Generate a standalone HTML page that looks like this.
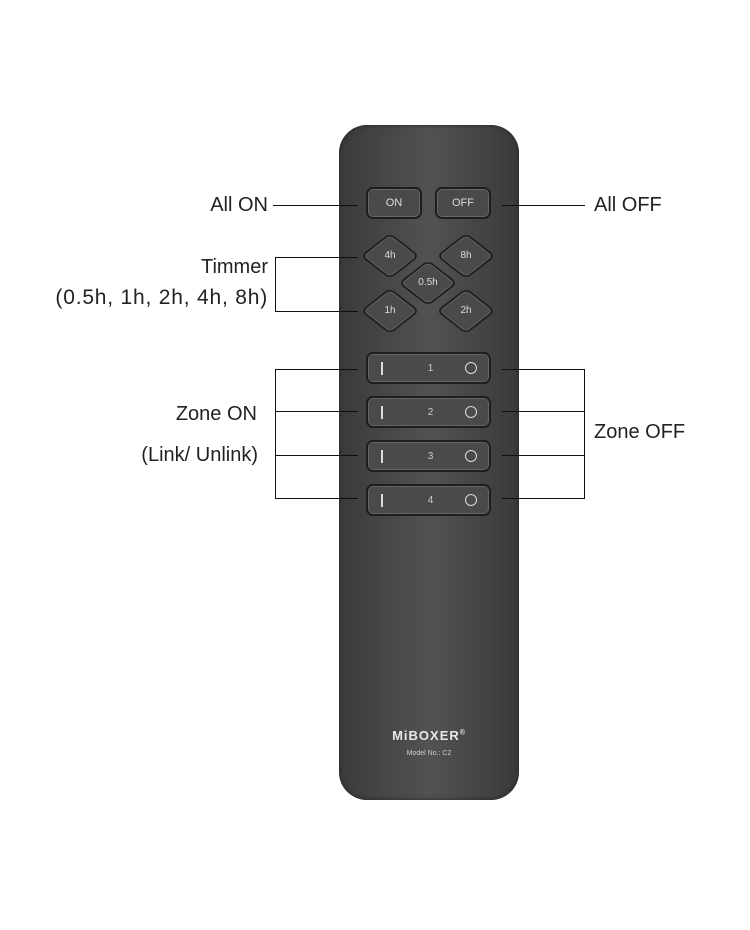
<!DOCTYPE html>
<html><head><style>
body{margin:0;background:#fff;width:750px;height:930px;position:relative;overflow:hidden;font-family:"Liberation Sans",sans-serif}
.t{position:absolute;font-size:20px;color:#222;white-space:nowrap;line-height:24px}
.l{position:absolute;background:#111}
.remote{position:absolute;left:339px;top:125px;width:180px;height:675px;border-radius:28px;background:linear-gradient(90deg,#3a3a3a 0%,#525252 50%,#3a3a3a 100%);box-shadow:inset 0 0 4px #222}
.btn{position:absolute;border:2px solid #1e1e1e;border-radius:7px;background:#4a4a4a;box-shadow:inset 0 0 0 1px #666;color:#ddd;font-size:11px;display:flex;align-items:center;justify-content:center;box-sizing:border-box}
.dm{position:absolute;width:42px;height:42px;transform:scaleY(0.78) rotate(45deg);border:2px solid #1e1e1e;border-radius:7px;background:#4a4a4a;box-shadow:inset 0 0 0 1px #666;box-sizing:border-box}
.dl{position:absolute;color:#ddd;font-size:10px;width:40px;text-align:center}
.z{position:absolute;left:366px;width:125px;height:32px}
.z .bar{position:absolute;left:13px;top:8px;width:2px;height:13px;background:#ddd}
.z .n{position:absolute;left:0;width:125px;top:9px;text-align:center;font-size:10px;color:#ccc}
.z .o{position:absolute;left:97px;top:8px;width:10px;height:10px;border:1.5px solid #ddd;border-radius:50%}
</style></head><body>
<div class="remote"></div>
<div class="btn" style="left:366px;top:187px;width:56px;height:32px">ON</div>
<div class="btn" style="left:435px;top:187px;width:56px;height:32px">OFF</div>
<div class="dm" style="left:369px;top:235px"></div><div class="dl" style="left:370px;top:250px">4h</div>
<div class="dm" style="left:445px;top:235px"></div><div class="dl" style="left:446px;top:250px">8h</div>
<div class="dm" style="left:407px;top:262px"></div><div class="dl" style="left:408px;top:277px">0.5h</div>
<div class="dm" style="left:369px;top:290px"></div><div class="dl" style="left:370px;top:305px">1h</div>
<div class="dm" style="left:445px;top:290px"></div><div class="dl" style="left:446px;top:305px">2h</div>
<div class="btn z" style="top:352px"><div class="bar"></div><div class="n">1</div><div class="o"></div></div>
<div class="btn z" style="top:396px"><div class="bar"></div><div class="n">2</div><div class="o"></div></div>
<div class="btn z" style="top:440px"><div class="bar"></div><div class="n">3</div><div class="o"></div></div>
<div class="btn z" style="top:484px"><div class="bar"></div><div class="n">4</div><div class="o"></div></div>
<div style="position:absolute;left:339px;top:728px;width:180px;text-align:center;color:#e8e8e8;font-size:13px;letter-spacing:1px;font-weight:bold">MiBOXER<sup style="font-size:7px">®</sup></div>
<div style="position:absolute;left:339px;top:750px;width:180px;text-align:center;color:#ccc;font-size:7px">Model No.: C2</div>

<div class="t" style="right:482px;top:193px">All ON</div>
<div class="l" style="left:273px;top:205px;width:85px;height:1px"></div>
<div class="t" style="left:594px;top:193px">All OFF</div>
<div class="l" style="left:502px;top:205px;width:83px;height:1px"></div>
<div class="t" style="right:482px;top:255px">Timmer</div>
<div class="t" style="right:482px;top:286px;font-size:21px;letter-spacing:0.8px">(0.5h, 1h, 2h, 4h, 8h)</div>
<div class="l" style="left:275px;top:257px;width:1px;height:54px"></div>
<div class="l" style="left:275px;top:257px;width:83px;height:1px"></div>
<div class="l" style="left:275px;top:311px;width:83px;height:1px"></div>
<div class="t" style="right:493px;top:402px">Zone ON</div>
<div class="t" style="right:492px;top:443px">(Link/ Unlink)</div>
<div class="l" style="left:275px;top:369px;width:1px;height:129px"></div>
<div class="l" style="left:275px;top:369px;width:83px;height:1px"></div>
<div class="l" style="left:275px;top:411px;width:83px;height:1px"></div>
<div class="l" style="left:275px;top:455px;width:83px;height:1px"></div>
<div class="l" style="left:275px;top:498px;width:83px;height:1px"></div>
<div class="t" style="left:594px;top:420px">Zone OFF</div>
<div class="l" style="left:584px;top:369px;width:1px;height:129px"></div>
<div class="l" style="left:502px;top:369px;width:83px;height:1px"></div>
<div class="l" style="left:502px;top:411px;width:83px;height:1px"></div>
<div class="l" style="left:502px;top:455px;width:83px;height:1px"></div>
<div class="l" style="left:502px;top:498px;width:83px;height:1px"></div>
</body></html>
